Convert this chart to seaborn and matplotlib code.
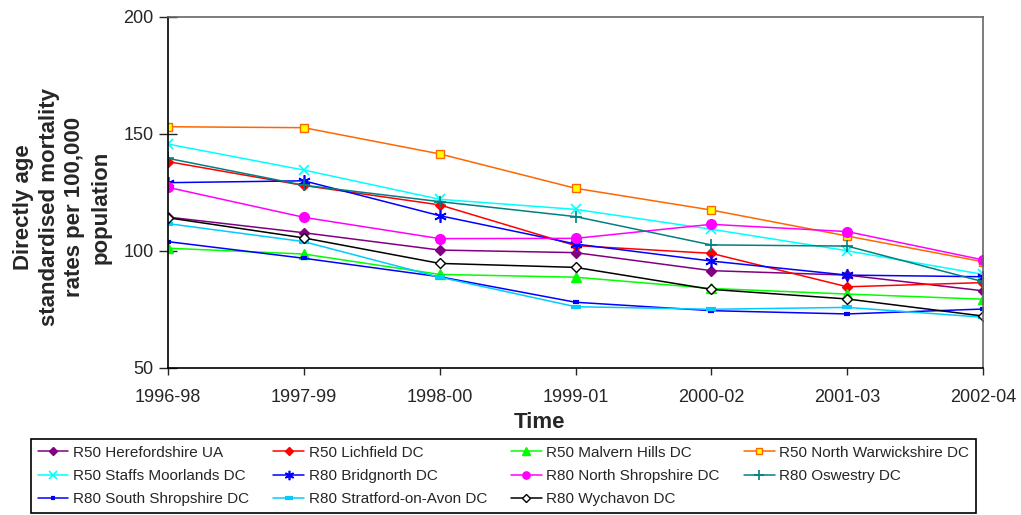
import numpy as np
import matplotlib
matplotlib.use("Agg")
import matplotlib.pyplot as plt
import pandas as pd
import seaborn as sns

periods = ["1996-98", "1997-99", "1998-00", "1999-01", "2000-02", "2001-03", "2002-04"]

herefordshire = [114.5, 107.8, 100.4, 99.3, 91.6, 89.7, 83.0]
lichfield = [138.2, 128.0, 119.7, 102.3, 99.0, 84.7, 86.5]
malvern = [101.2, 98.7, 90.0, 88.8, 84.0, 81.6, 79.4]
north_warks = [153.1, 152.7, 141.5, 126.8, 117.5, 106.4, 95.4]
staffs = [145.7, 134.6, 122.1, 117.8, 109.3, 100.1, 90.0]
bridgnorth = [129.2, 130.0, 115.1, 103.0, 95.7, 89.7, 89.0]
north_shrop = [127.2, 114.4, 105.3, 105.4, 111.4, 108.3, 96.2]
oswestry = [139.6, 128.1, 121.1, 114.7, 102.6, 102.1, 86.9]
south_shrop = [104.0, 96.9, 89.0, 78.1, 74.5, 73.1, 75.2]
stratford = [111.7, 104.0, 88.8, 76.2, 75.1, 75.9, 71.7]
wychavon = [114.2, 105.6, 94.7, 93.0, 83.6, 79.5, 72.2]

names = ["R50 Herefordshire UA", "R50 Lichfield DC", "R50 Malvern Hills DC",
         "R50 North Warwickshire DC", "R50 Staffs Moorlands DC", "R80 Bridgnorth DC",
         "R80 North Shropshire DC", "R80 Oswestry DC", "R80 South Shropshire DC",
         "R80 Stratford-on-Avon DC", "R80 Wychavon DC"]
values = [herefordshire, lichfield, malvern, north_warks, staffs, bridgnorth,
          north_shrop, oswestry, south_shrop, stratford, wychavon]

# colour, marker, face, size, edge width
styles = [
    ("#800080", "D", "#800080", 5.5, 1),
    ("#FF0000", "D", "#FF0000", 5.5, 1),
    ("#00FF00", "^", "#00FF00", 7, 1),
    ("#FF6600", "s", "#FFFF00", 6, 1),
    ("#00FFFF", "x", "#00FFFF", 7, 1.2),
    ("#0000FF", (6, 2, 0), "#0000FF", 9, 1.2),
    ("#FF00FF", "o", "#FF00FF", 7, 1),
    ("#008080", "+", "#008080", 9, 1.2),
    ("#0000FF", "_", "#0000FF", 4, 3),
    ("#00CCFF", "_", "#00CCFF", 7, 3),
    ("#000000", "D", "#FFFFFF", 5.5, 1),
]

sns.set_style("white")
plt.rcParams["font.family"] = ["Liberation Sans", "DejaVu Sans"]

fig = plt.figure(figsize=(10.21, 5.15), dpi=100)
ax = fig.add_axes([168 / 1021, 1 - 368 / 515, 815 / 1021, 351 / 515])

for name, vals, (col, mk, face, ms, mew) in zip(names, values, styles):
    df = pd.DataFrame({"period": periods, "rate": vals})
    sns.lineplot(data=df, x="period", y="rate", ax=ax, color=col, lw=1.1,
                 marker=mk, markersize=ms, markerfacecolor=face,
                 markeredgecolor=col, markeredgewidth=mew, label=name, sort=False)

ax.set_xlim(0, 6)
ax.set_ylim(50, 200)
ax.set_yticks([50, 100, 150, 200])
ax.set_xlabel("")
ax.set_ylabel("")

for s in ["left", "bottom"]:
    ax.spines[s].set_color("black")
    ax.spines[s].set_linewidth(1.2)
for s in ["top", "right"]:
    ax.spines[s].set_color("#666666")
    ax.spines[s].set_linewidth(1.2)

ax.tick_params(axis="y", direction="inout", length=13, width=1, labelsize=13, pad=4, left=True)
ax.tick_params(axis="x", direction="out", length=5, width=1, labelsize=13, pad=10, bottom=True)

fig.text(540 / 1021, 1 - 423 / 515, "Time", ha="center", va="center",
         fontsize=16, fontweight="bold")
fig.text(62 / 1021, 1 - 207 / 515,
         "Directly age\nstandardised mortality\nrates per 100,000\npopulation",
         ha="center", va="center", rotation=90, fontsize=16, fontweight="bold",
         multialignment="center", linespacing=1.3)

# legend filled row by row, like the original
ax.get_legend().remove()
h, l = ax.get_legend_handles_labels()
order = [0, 4, 8, 1, 5, 9, 2, 6, 10, 3, 7]
leg = fig.legend([h[i] for i in order], [l[i] for i in order], ncol=4,
                 loc="lower left", mode="expand",
                 bbox_to_anchor=(31 / 1021, 2 / 515, 945 / 1021, 74 / 515),
                 bbox_transform=fig.transFigure, borderaxespad=0,
                 fontsize=11, frameon=True, fancybox=False, edgecolor="black",
                 framealpha=1, handlelength=2.0, handletextpad=0.3,
                 labelspacing=0.6, markerscale=0.75, borderpad=0.45)
leg.get_frame().set_linewidth(1.2)

fig.savefig("out.png", dpi=100)
